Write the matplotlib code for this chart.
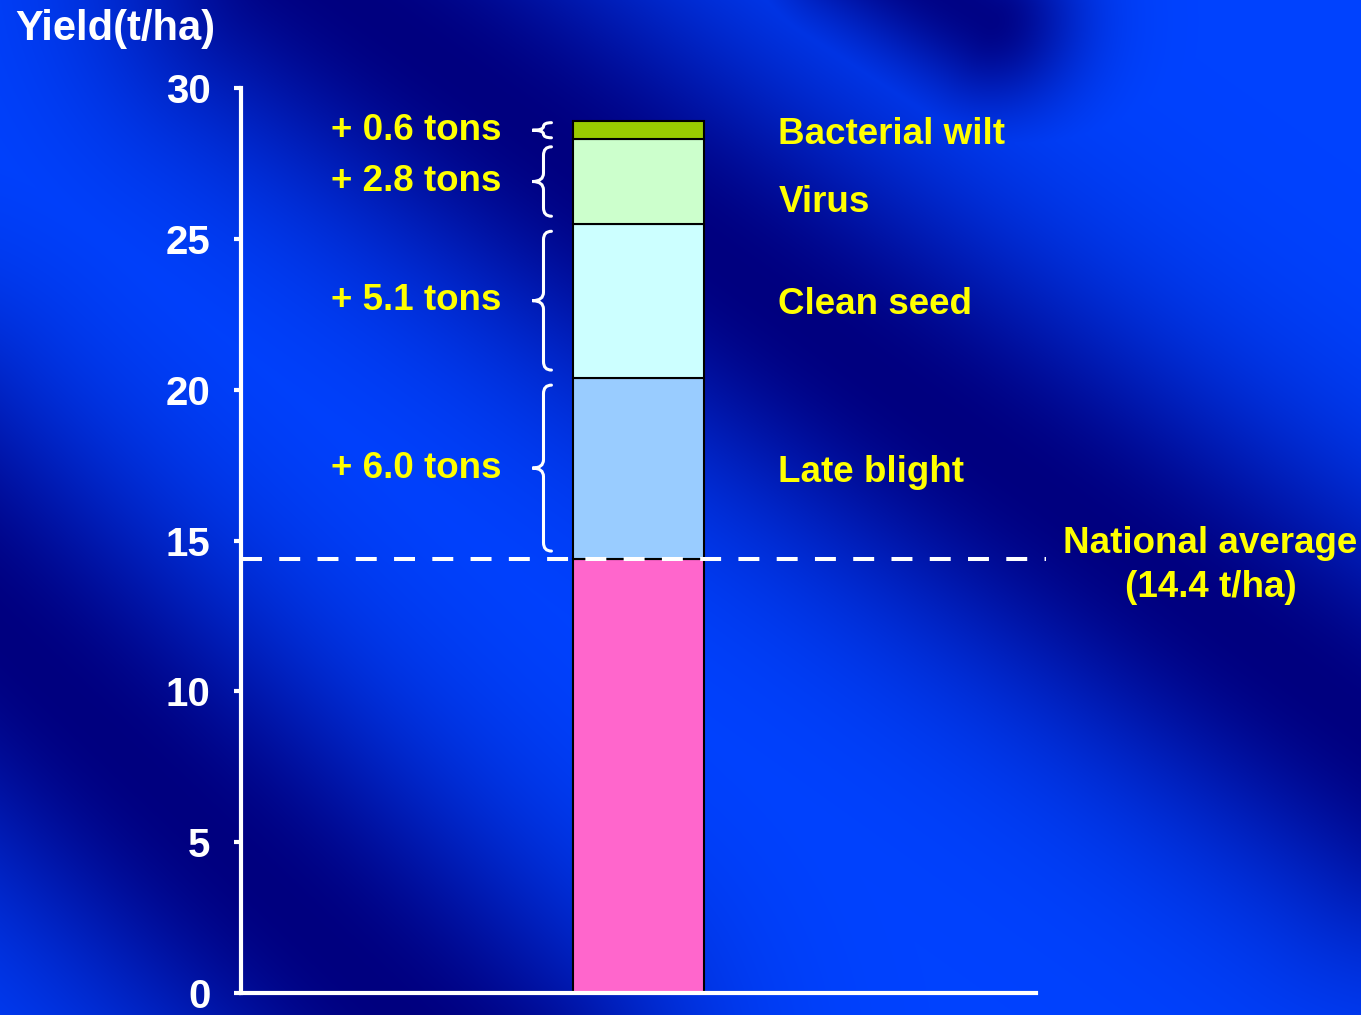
import numpy as np
import matplotlib
matplotlib.use("Agg")
from matplotlib import pyplot as plt
from matplotlib.path import Path
from matplotlib.patches import PathPatch

plt.rcParams['font.family'] = ['Liberation Sans', 'DejaVu Sans']
plt.rcParams['font.weight'] = 'bold'

# yield build-up, bottom to top
national_avg = 14.4
gains = [6.0, 5.1, 2.8, 0.6]
gain_labels = ['+ 6.0 tons', '+ 5.1 tons', '+ 2.8 tons', '+ 0.6 tons']
factors = ['Late blight', 'Clean seed', 'Virus', 'Bacterial wilt']
seg_colors = ['#99CCFF', '#CCFFFF', '#CCFFCC', '#99CC00']
base_color = '#FF66CC'
yticks = [0, 5, 10, 15, 20, 25, 30]

W, H = 1361, 1015
fig = plt.figure(figsize=(W / 100, H / 100), dpi=100)

# blue background with dark diagonal bands
yy, xx = np.mgrid[0:H, 0:W].astype(float)


def seg_dist(x0, y0, x1, y1):
    dx, dy = x1 - x0, y1 - y0
    t = ((xx - x0) * dx + (yy - y0) * dy) / (dx * dx + dy * dy)
    t = np.clip(t, 0, 1)
    return np.hypot(xx - (x0 + t * dx), yy - (y0 + t * dy))


dark = np.zeros((H, W))
for (x0, y0, x1, y1, w, k) in [(300, -40, 1420, 760, 190, 1.0),
                               (-120, 520, 470, 1080, 200, 1.0),
                               (860, -60, 990, 20, 90, 0.95)]:
    dark = np.maximum(dark, k * np.exp(-(seg_dist(x0, y0, x1, y1) / w) ** 2))
bright = np.array([0.0, 0.26, 1.0])
navy = np.array([0.0, 0.0, 0.5])
bg = bright * (1 - dark[..., None]) + navy * dark[..., None]

bg_ax = fig.add_axes([0, 0, 1, 1])
bg_ax.imshow(bg, aspect='auto', interpolation='bilinear')
bg_ax.axis('off')

ax = fig.add_axes([241 / W, 22 / H, 795 / W, 905 / H])
ax.patch.set_alpha(0)
ax.set_xlim(-1, 1)
ax.set_ylim(0, 30)

bar_w = 0.332
ax.bar(0, national_avg, width=bar_w, color=base_color, edgecolor='black',
       linewidth=1.5, zorder=2)
bottoms = np.cumsum([national_avg] + gains[:-1])
for b, g, c in zip(bottoms, gains, seg_colors):
    ax.bar(0, g, bottom=b, width=bar_w, color=c, edgecolor='black',
           linewidth=1.5, zorder=2)

# national average line
ax.plot([-1, 1.024], [national_avg, national_avg], color='white', lw=2.9,
        dashes=(5.2, 4.3), dash_capstyle='butt', clip_on=False, zorder=3)
ax.text(1.439, national_avg + 0.5, 'National average', color='yellow',
        fontsize=26.5, ha='center', va='center')
ax.text(1.439, national_avg - 0.95, '(%.1f t/ha)' % national_avg,
        color='yellow', fontsize=26.5, ha='center', va='center')


def brace(y0, y1, xb=-0.219, xm=-0.239, xt=-0.267):
    ym = (y0 + y1) / 2
    r = min(0.28, (y1 - y0) / 4)
    verts = [(xb, y1), (xm, y1), (xm, y1 - r),
             (xm, ym + r), (xm, ym), (xt, ym),
             (xm, ym), (xm, ym - r),
             (xm, y0 + r), (xm, y0), (xb, y0)]
    codes = [Path.MOVETO, Path.CURVE3, Path.CURVE3,
             Path.LINETO, Path.CURVE3, Path.CURVE3,
             Path.CURVE3, Path.CURVE3,
             Path.LINETO, Path.CURVE3, Path.CURVE3]
    ax.add_patch(PathPatch(Path(verts, codes), fill=False, edgecolor='white',
                           lw=2.2, capstyle='round', zorder=3))


for b, g, lab, fac in zip(bottoms, gains, gain_labels, factors):
    inset = 0.25 if g > 1 else 0.05
    brace(b + inset, b + g - inset)
    mid = b + g / 2
    ax.text(-0.345, mid, lab, color='yellow',
            fontsize=26.5, ha='right', va='center')
    ax.text(0.352, mid - (0.68 if fac == 'Virus' else 0.13), fac,
            color='yellow', fontsize=26.5, ha='left', va='center')

# axes styling
for s in ['top', 'right']:
    ax.spines[s].set_visible(False)
for s in ['left', 'bottom']:
    ax.spines[s].set_color('white')
    ax.spines[s].set_linewidth(3)
ax.spines['left'].set_bounds(0, 30)
ax.set_xticks([])
ax.set_yticks(yticks)
ax.tick_params(axis='y', colors='white', labelsize=29, length=5, width=3,
               pad=17)

fig.text(15 / W, 1 - 29 / H, 'Yield(t/ha)', color='white', fontsize=30,
         ha='left', va='center')

fig.savefig('out.png', dpi=100)
